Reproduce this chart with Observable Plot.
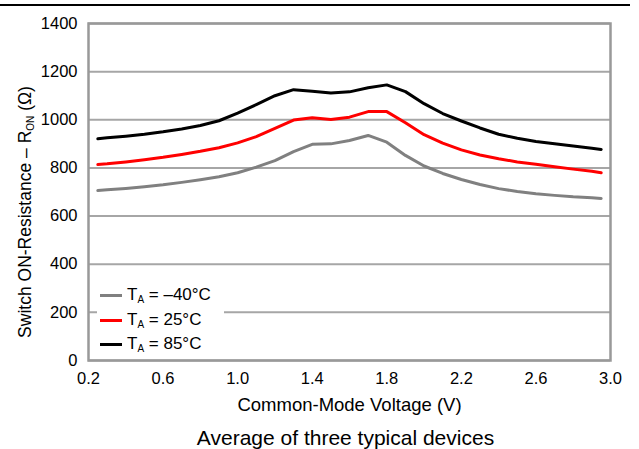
<!DOCTYPE html>
<html>
<head>
<meta charset="utf-8">
<script src="https://cdn.jsdelivr.net/npm/d3@7"></script>
<script src="https://cdn.jsdelivr.net/npm/@observablehq/plot@0.6"></script>
<style>
  html, body { margin: 0; padding: 0; background: #fff; }
  #wrap { position: relative; width: 639px; height: 449px; font-family: "Liberation Sans", Arial, sans-serif; }
  #topRule { position: absolute; left: 0; top: 4px; width: 630px; height: 2px; background: #000; }
  #legend { position: absolute; left: 97px; top: 282px; width: 127px; height: 74px; background: #fff; font-size: 17px; color: #000; }
  .row { position: absolute; left: 3px; height: 20px; display: flex; align-items: center; white-space: nowrap; }
  .sw { display: inline-block; width: 22px; height: 3px; margin-right: 5px; }
  .row sub { font-size: 10px; vertical-align: -3px; line-height: 0; }
</style>
</head>
<body>
<div id="wrap">
  <div id="chart"></div>
  <div id="topRule"></div>
  <div id="legend"></div>
</div>
<script>
// ---- data ----
const volts = [0.25, 0.3, 0.4, 0.5, 0.6, 0.7, 0.8, 0.9, 1.0, 1.1, 1.2, 1.3, 1.4, 1.5, 1.6, 1.7, 1.8, 1.9, 2.0, 2.1, 2.2, 2.3, 2.4, 2.5, 2.6, 2.7, 2.8, 2.9, 2.95];
const ronM40 = [706, 709, 715, 722, 730, 740, 751, 763, 780, 803, 830, 868, 898, 900, 914, 935, 907, 852, 808, 777, 752, 731, 714, 702, 693, 686, 680, 676, 673];
const ron25  = [814, 817, 825, 834, 844, 856, 869, 884, 904, 930, 964, 999, 1008, 1001, 1011, 1034, 1034, 988, 938, 903, 875, 854, 838, 825, 815, 805, 795, 786, 780];
const ron85  = [921, 925, 932, 940, 950, 962, 976, 996, 1028, 1063, 1100, 1125, 1119, 1111, 1116, 1133, 1145, 1117, 1067, 1026, 995, 966, 940, 923, 910, 900, 891, 882, 877];
const seriesNames = ["–40°C", "25°C", "85°C"];
const seriesColors = ["#808080", "#ff0000", "#000000"];
const xTicks = [0.2, 0.6, 1.0, 1.4, 1.8, 2.2, 2.6, 3.0];
const yTicks = [0, 200, 400, 600, 800, 1000, 1200, 1400];
const xTitle = "Common-Mode Voltage (V)";
const yTitle = "Switch ON-Resistance – RON (Ω)";
const caption = "Average of three typical devices";

const allSeries = [ronM40, ron25, ron85];
const rows = [];
allSeries.forEach((arr, si) => arr.forEach((r, i) => rows.push({v: volts[i], r, series: seriesNames[si]})));

const chart = Plot.plot({
  width: 639,
  height: 449,
  marginLeft: 88,
  marginRight: 29,
  marginTop: 23,
  marginBottom: 89,
  style: {fontFamily: '"Liberation Sans", Arial, sans-serif', fontSize: "16.5px", color: "#000", background: "#fff"},
  x: {domain: [0.2, 3.0], ticks: xTicks, tickFormat: d3.format(".1f"), tickSize: 0, tickPadding: 12, label: null},
  y: {domain: [0, 1400], ticks: yTicks, tickFormat: d3.format("d"), tickSize: 0, tickPadding: 11, label: null},
  color: {domain: seriesNames, range: seriesColors},
  marks: [
    Plot.ruleY(yTicks, {stroke: "#a6a6a6", strokeWidth: 2}),
    Plot.frame({stroke: "#999999", strokeWidth: 2.5}),
    Plot.line(rows, {x: "v", y: "r", z: "series", stroke: "series", strokeWidth: 3, strokeLinejoin: "round", strokeLinecap: "round"}),
    Plot.text([xTitle], {frameAnchor: "bottom", dy: 45, lineAnchor: "middle", fontSize: 18.5, fill: "#000"}),
    Plot.text([caption], {frameAnchor: "bottom", dy: 78, dx: -4, lineAnchor: "middle", fontSize: 21, fill: "#000"}),
    Plot.text([yTitle], {frameAnchor: "left", rotate: -90, dx: -63, dy: 20, textAnchor: "middle", lineAnchor: "middle", fontSize: 17.5, fill: "#000"})
  ]
});
document.getElementById("chart").appendChild(chart);

// subscript for R_ON
d3.select(chart).selectAll("text").filter(function() { return this.textContent === yTitle; })
  .each(function() {
    const t = d3.select(this);
    t.text(null);
    t.append("tspan").text("Switch ON-Resistance – R");
    t.append("tspan").attr("font-size", "10px").attr("dy", "3").text("ON");
    t.append("tspan").attr("dy", "-3").text(" (Ω)");
  });

// legend
const legend = document.getElementById("legend");
const rowTops = [3, 28, 52];
seriesNames.forEach((name, i) => {
  const row = document.createElement("div");
  row.className = "row";
  row.style.top = rowTops[i] + "px";
  row.innerHTML = `<span class="sw" style="background:${seriesColors[i]}"></span><span>T<sub>A</sub> = ${name}</span>`;
  legend.appendChild(row);
});
</script>
</body>
</html>
